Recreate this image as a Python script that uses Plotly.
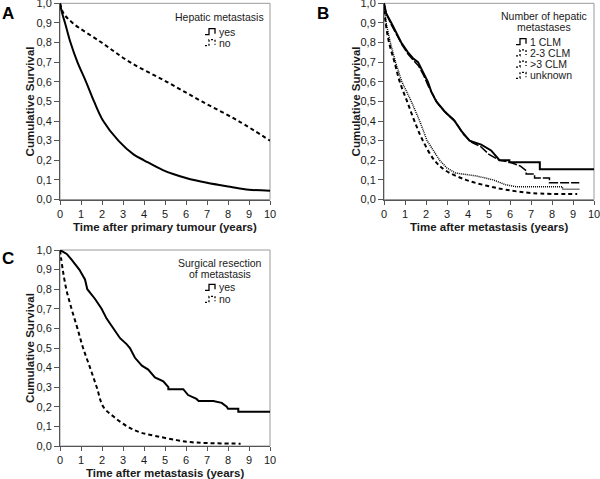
import plotly.graph_objects as go

# ---------------- Data ----------------
# Panel A: time after primary tumour (years)
a_yes_t = [0, 0.1, 0.24, 0.5, 0.83, 1.24, 1.62, 2.06, 2.78, 3.5, 4.0, 4.9, 6.0, 7.0, 8.1, 9.0, 10]
a_yes_s = [1.0, 0.95, 0.9, 0.8, 0.7, 0.6, 0.5, 0.4, 0.3, 0.23, 0.2, 0.15, 0.11, 0.085, 0.065, 0.05, 0.045]
a_no_t = [0, 0.16, 0.6, 1.98, 3.33, 5.08, 6.75, 8.5, 10]
a_no_s = [1.0, 0.95, 0.9, 0.8, 0.7, 0.6, 0.5, 0.4, 0.3]

# Panel B: time after metastasis (years), by number of hepatic metastases
b1_t = [0, 0.1, 0.35, 0.59, 0.82, 1.14, 1.38, 1.62, 1.85, 2.09, 2.25, 2.49, 2.88, 3.2, 3.36, 3.68, 4.07, 4.63, 5.1, 5.5, 5.97, 5.97, 7.42, 7.42, 10]
b1_s = [1.0, 0.95, 0.9, 0.85, 0.8, 0.75, 0.72, 0.7, 0.65, 0.6, 0.55, 0.5, 0.45, 0.42, 0.4, 0.35, 0.3, 0.28, 0.25, 0.2, 0.2, 0.19, 0.19, 0.154, 0.154]
b2_t = [0, 0.1, 0.35, 0.6, 0.85, 1.15, 1.4, 1.65, 1.9, 2.1, 2.3, 2.55, 2.95, 3.3, 3.5, 3.8, 4.2, 4.6, 5.0, 5.5, 6.0, 6.5, 6.77, 6.77, 7.17, 7.17, 7.88, 7.88, 9.3]
b2_s = [1.0, 0.95, 0.89, 0.84, 0.79, 0.74, 0.71, 0.68, 0.63, 0.58, 0.54, 0.49, 0.44, 0.41, 0.38, 0.33, 0.29, 0.27, 0.23, 0.2, 0.19, 0.17, 0.147, 0.13, 0.13, 0.11, 0.11, 0.086, 0.086]
b3_t = [0, 0.08, 0.24, 0.5, 0.75, 1.1, 1.45, 1.85, 2.4, 2.9, 3.9, 4.9, 5.8, 7.1, 9.2]
b3_s = [1.0, 0.9, 0.8, 0.7, 0.6, 0.5, 0.4, 0.3, 0.2, 0.15, 0.1, 0.07, 0.05, 0.032, 0.028]
b4_t = [0, 0.1, 0.3, 0.55, 0.85, 1.3, 1.7, 2.05, 2.65, 3.0, 3.4, 4.4, 5.2, 5.8, 6.3, 8.5, 8.5, 9.3]
b4_s = [1.0, 0.9, 0.8, 0.7, 0.6, 0.5, 0.4, 0.3, 0.2, 0.16, 0.135, 0.12, 0.1, 0.075, 0.065, 0.065, 0.052, 0.052]

# Panel C: time after metastasis (years), by surgical resection
c_yes_t = [0, 0.32, 0.56, 0.76, 0.92, 1.19, 1.3, 1.67, 1.98, 2.22, 2.54, 2.86, 3.17, 3.33, 3.57, 3.9, 4.2, 4.52, 4.92, 5.16, 5.16, 5.87, 6.1, 6.5, 6.6, 7.3, 7.7, 7.94, 8.0, 8.49, 8.49, 10]
c_yes_s = [1.0, 0.98, 0.95, 0.92, 0.9, 0.85, 0.8, 0.75, 0.7, 0.65, 0.6, 0.55, 0.52, 0.5, 0.45, 0.41, 0.39, 0.35, 0.33, 0.3, 0.29, 0.29, 0.26, 0.24, 0.23, 0.23, 0.22, 0.2, 0.19, 0.19, 0.175, 0.175]
c_no_t = [0, 0.13, 0.3, 0.55, 0.83, 1.1, 1.43, 1.75, 2.06, 2.55, 3.2, 3.8, 4.6, 5.55, 6.2, 7.0, 8.6]
c_no_s = [1.0, 0.9, 0.8, 0.7, 0.6, 0.5, 0.4, 0.3, 0.2, 0.15, 0.1, 0.07, 0.05, 0.03, 0.02, 0.015, 0.012]

x_ticks = list(range(0, 11))
y_ticks = [i / 10 for i in range(0, 11)]

# axis titles
x_title_a = "Time after primary tumour (years)"
x_title_bc = "Time after metastasis (years)"
y_title = "Cumulative Survival"

# legend texts
leg_a_title = ["Hepatic metastasis"]
leg_a_items = ["yes", "no"]
leg_b_title = ["Number of hepatic", "metastases"]
leg_b_items = ["1 CLM", "2-3 CLM", ">3 CLM", "unknown"]
leg_c_title = ["Surgical resection", "of metastasis"]
leg_c_items = ["yes", "no"]

FONT = "Liberation Sans, Arial, sans-serif"
TXT = "#1a1a1a"
W, H = 600, 479

SOLID = dict(dash="solid", width=2)
LONGD = dict(dash="9px,2px", width=1.5)
SHORTD = dict(dash="4px,3px", width=2)
DOT = dict(dash="1px,1px", width=1.5)

fig = go.Figure()

def add(x, y, name, xa, ya, style, shape):
    fig.add_trace(go.Scatter(
        x=x, y=y, mode="lines", name=name, xaxis=xa, yaxis=ya, showlegend=False,
        line=dict(color="black", shape=shape, **style), hoverinfo="skip"))

add(a_yes_t, a_yes_s, "yes", "x", "y", SOLID, "spline")
add(a_no_t, a_no_s, "no", "x", "y", SHORTD, "spline")

add(b1_t, b1_s, "1 CLM", "x2", "y2", SOLID, "linear")
add(b2_t, b2_s, "2-3 CLM", "x2", "y2", LONGD, "linear")
add(b3_t, b3_s, ">3 CLM", "x2", "y2", SHORTD, "spline")
add(b4_t, b4_s, "unknown", "x2", "y2", DOT, "linear")

add(c_yes_t, c_yes_s, "yes", "x3", "y3", SOLID, "linear")
add(c_no_t, c_no_s, "no", "x3", "y3", SHORTD, "spline")

def px_x(p):
    return p / W
def px_y(p):
    return 1 - p / H

def xaxis(domain, anchor):
    return dict(domain=domain, anchor=anchor, range=[0, 10], tickvals=x_ticks,
                ticks="outside", ticklen=4, tickcolor="#555", showline=True,
                linecolor="#555", linewidth=1, showgrid=False, zeroline=False, automargin=False,
                ticklabeloverflow="allow",
                tickfont=dict(size=11, color=TXT, family=FONT))

def yaxis(domain, anchor):
    return dict(domain=domain, anchor=anchor, range=[0, 1.0], tickvals=y_ticks,
                tickformat=".1f", ticks="outside", ticklen=5, tickcolor="#555",
                showline=True, linecolor="#555", linewidth=1, showgrid=False, zeroline=False,
                automargin=False, ticklabeloverflow="allow",
                tickfont=dict(size=11, color=TXT, family=FONT))

dA_x = [px_x(60), px_x(270)]
dA_y = [px_y(199.5), px_y(3.3)]
dB_x = [px_x(384), px_x(594)]
dC_y = [px_y(446), px_y(250)]

fig.update_layout(
    width=W, height=H, margin=dict(l=0, r=0, t=0, b=0),
    paper_bgcolor="white", plot_bgcolor="white",
    separators=",.",
    font=dict(family=FONT, color=TXT),
    xaxis=xaxis(dA_x, "y"),
    yaxis=yaxis(dA_y, "x"),
    xaxis2=xaxis(dB_x, "y2"),
    yaxis2=yaxis(dA_y, "x2"),
    xaxis3=xaxis(dA_x, "y3"),
    yaxis3=yaxis(dC_y, "x3"),
    showlegend=False,
)

# light frame on top/right of each plot area
for xr, yr in [("x", "y"), ("x2", "y2"), ("x3", "y3")]:
    fig.add_shape(type="rect", xref=xr + " domain", yref=yr + " domain",
                  x0=0, x1=1, y0=0, y1=1, line=dict(color="#9a9a9a", width=1), layer="below")

TITLE_FONT = dict(size=11.5, color=TXT, family=FONT)
# x-axis titles (centred under each plot area)
for text, dx, yc in [(x_title_a, dA_x, 226.5), (x_title_bc, dB_x, 226.5), (x_title_bc, dA_x, 472.5)]:
    fig.add_annotation(text="<b>" + text + "</b>", x=(dx[0] + dx[1]) / 2, y=px_y(yc),
                       xref="paper", yref="paper", showarrow=False, font=TITLE_FONT,
                       xanchor="center", yanchor="middle")
# y-axis titles
for xc, yc in [(30, 101.4), (356, 101.4), (30, 348)]:
    fig.add_annotation(text="<b>" + y_title + "</b>", x=px_x(xc), y=px_y(yc),
                       xref="paper", yref="paper", showarrow=False, font=TITLE_FONT,
                       textangle=-90, xanchor="center", yanchor="middle")

# panel letters
for label, x, y in [("A", 8, 13), ("B", 323, 13), ("C", 8, 258)]:
    fig.add_annotation(text="<b>" + label + "</b>", x=px_x(x), y=px_y(y), xref="paper", yref="paper",
                       showarrow=False, font=dict(size=17, color="black", family=FONT),
                       xanchor="center", yanchor="middle")

# custom legends (title + small step glyph + label)
LEG_FONT = dict(size=10.5, color=TXT, family=FONT)

def legend_block(title_lines, title_cx, title_y0, items, styles, glyph_x, item_y0, step):
    for j, line in enumerate(title_lines):
        fig.add_annotation(text=line, x=px_x(title_cx), y=px_y(title_y0 + j * 11),
                           xref="paper", yref="paper", showarrow=False, font=LEG_FONT,
                           xanchor="center", yanchor="middle")
    for i, (name, st) in enumerate(zip(items, styles)):
        yc = item_y0 + i * step
        fig.add_annotation(text=name, x=px_x(glyph_x + 12), y=px_y(yc), xref="paper", yref="paper",
                           showarrow=False, font=LEG_FONT, xanchor="left", yanchor="middle")
        pts = [(glyph_x, yc + 3), (glyph_x + 4, yc + 3), (glyph_x + 4, yc - 3),
               (glyph_x + 10, yc - 3), (glyph_x + 10, yc + 2)]
        path = "M " + " L ".join(f"{px_x(a):.5f},{px_y(b):.5f}" for a, b in pts)
        fig.add_shape(type="path", path=path, xref="paper", yref="paper",
                      line=dict(color="black", width=1.3,
                                dash="solid" if st["dash"] == "solid" else "2px,2px"))

legend_block(leg_a_title, 220, 16.7, leg_a_items, [SOLID, SHORTD], 205, 31.7, 11)
legend_block(leg_b_title, 544, 16.2, leg_b_items, [SOLID, LONGD, SHORTD, DOT], 516, 41.7, 11.2)
legend_block(leg_c_title, 219.5, 262.8, leg_c_items, [SOLID, SHORTD], 205, 287.3, 12)

fig.write_html("out.html", config=dict(displayModeBar=False, staticPlot=True),
               post_script="document.body.style.margin='0';document.body.style.overflow='hidden';")
